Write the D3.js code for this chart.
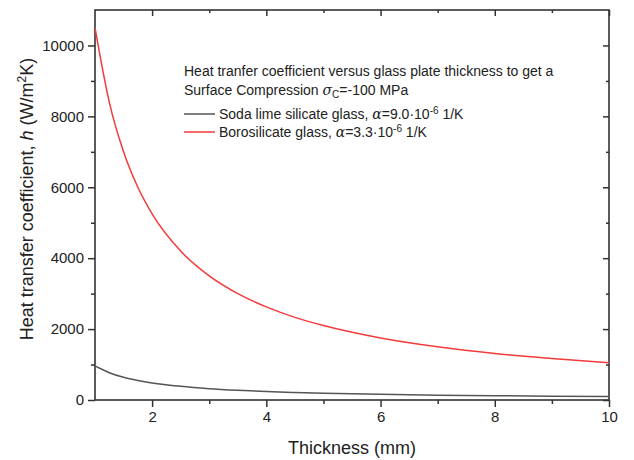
<!DOCTYPE html>
<html>
<head>
<meta charset="utf-8">
<script src="https://cdn.jsdelivr.net/npm/d3@7"></script>
<style>
  body { margin: 0; background: #fff; }
  text { font-family: "Liberation Sans", Arial, sans-serif; fill: #222; }
</style>
</head>
<body>
<svg width="634" height="460"></svg>
<script>
// thickness (mm) and h (W/m2K)
var thickness = [1, 1.25, 1.5, 1.75, 2, 2.5, 3, 3.5, 4, 4.5, 5, 6, 7, 8, 9, 10];
var hBoro     = [10500, 8400, 7000, 6000, 5250, 4200, 3500, 3000, 2625, 2330, 2100, 1750, 1500, 1310, 1170, 1050];
var hSoda     = [960, 770, 640, 550, 480, 385, 320, 275, 240, 213, 192, 160, 137, 120, 107, 96];
var xTicks = [2, 4, 6, 8, 10];
var yTicks = [0, 2000, 4000, 6000, 8000, 10000];

var svg = d3.select("svg");
var pLeft = 95, pRight = 609, pTop = 10, pBottom = 400;

var x = d3.scaleLinear().domain([1, 10]).range([pLeft, pRight]);
var y = d3.scaleLinear().domain([0, 11000]).range([pBottom, pTop]);

var axisColor = "#333";

// minor ticks
var xMinor = d3.range(3, 10, 2);
var yMinor = d3.range(1000, 11000, 2000);

// bottom axis
svg.append("g").attr("transform", "translate(0," + pBottom + ")")
    .call(d3.axisBottom(x).tickValues(xTicks).tickSize(7).tickPadding(4).tickFormat(d3.format("d")));
svg.append("g").attr("transform", "translate(0," + pBottom + ")")
    .call(d3.axisBottom(x).tickValues(xMinor).tickSize(4).tickFormat(""));
// left axis
svg.append("g").attr("transform", "translate(" + pLeft + ",0)")
    .call(d3.axisLeft(y).tickValues(yTicks).tickSize(7).tickPadding(4).tickFormat(d3.format("d")));
svg.append("g").attr("transform", "translate(" + pLeft + ",0)")
    .call(d3.axisLeft(y).tickValues(yMinor).tickSize(4).tickFormat(""));
// mirror axes, ticks inside
svg.append("g").attr("transform", "translate(0," + pTop + ")")
    .call(d3.axisBottom(x).tickValues(xTicks).tickSize(6).tickFormat(""));
svg.append("g").attr("transform", "translate(0," + pTop + ")")
    .call(d3.axisBottom(x).tickValues(xMinor).tickSize(3).tickFormat(""));
svg.append("g").attr("transform", "translate(" + pRight + ",0)")
    .call(d3.axisLeft(y).tickValues(yTicks).tickSize(6).tickFormat(""));
svg.append("g").attr("transform", "translate(" + pRight + ",0)")
    .call(d3.axisLeft(y).tickValues(yMinor).tickSize(3).tickFormat(""));

svg.selectAll(".domain").remove();
svg.selectAll(".tick line").attr("stroke", axisColor).attr("stroke-width", 1.5);
svg.selectAll(".tick text").attr("font-size", 15).attr("fill", "#222");

// frame
svg.append("rect")
    .attr("x", pLeft).attr("y", pTop)
    .attr("width", pRight - pLeft).attr("height", pBottom - pTop)
    .attr("fill", "none").attr("stroke", axisColor).attr("stroke-width", 1.6);

// curves
var line = function(vals){
    return d3.line()
        .x(function(d, i){ return x(thickness[i]); })
        .y(function(d){ return y(d); })
        .curve(d3.curveMonotoneX)(vals);
};
svg.append("clipPath").attr("id", "clip").append("rect")
    .attr("x", pLeft).attr("y", pTop).attr("width", pRight - pLeft).attr("height", pBottom - pTop);

svg.append("path").attr("d", line(hSoda)).attr("fill", "none")
    .attr("stroke", "#555").attr("stroke-width", 1.5).attr("clip-path", "url(#clip)");
svg.append("path").attr("d", line(hBoro)).attr("fill", "none")
    .attr("stroke", "#f43a3a").attr("stroke-width", 1.5).attr("clip-path", "url(#clip)");

// axis titles
svg.append("text")
    .attr("x", (pLeft + pRight) / 2).attr("y", 454)
    .attr("text-anchor", "middle").attr("font-size", 18)
    .text("Thickness (mm)");

var yt = svg.append("text")
    .attr("transform", "translate(33,199) rotate(-90)")
    .attr("text-anchor", "middle").attr("font-size", 18);
yt.append("tspan").text("Heat transfer coefficient, ");
yt.append("tspan").attr("font-style", "italic").text("h");
yt.append("tspan").text(" (W/m");
yt.append("tspan").attr("font-size", 12).attr("dy", -7).text("2");
yt.append("tspan").attr("dy", 7).text("K)");

// legend
var lx = 184, fs = 14;
svg.append("text").attr("x", lx).attr("y", 76).attr("font-size", fs)
    .text("Heat tranfer coefficient versus glass plate thickness to get a");
var t2 = svg.append("text").attr("x", lx).attr("y", 95).attr("font-size", fs);
t2.append("tspan").text("Surface Compression ");
t2.append("tspan").attr("font-style", "italic").attr("font-family", "DejaVu Serif, serif").text("σ");
t2.append("tspan").attr("font-size", 10).attr("dy", 3).text("C");
t2.append("tspan").attr("dy", -3).text("=-100 MPa");

var legend = [
    { color: "#555", name: "Soda lime silicate glass, ", a: "9.0", yy: 119 },
    { color: "#f43a3a", name: "Borosilicate glass, ", a: "3.3", yy: 137 }
];
legend.forEach(function(d){
    svg.append("line")
        .attr("x1", lx).attr("x2", lx + 31)
        .attr("y1", d.yy - 5).attr("y2", d.yy - 5)
        .attr("stroke", d.color).attr("stroke-width", 1.5);
    var t = svg.append("text").attr("x", lx + 35).attr("y", d.yy).attr("font-size", fs);
    t.append("tspan").text(d.name);
    t.append("tspan").attr("font-style", "italic").attr("font-family", "DejaVu Serif, serif").text("α");
    t.append("tspan").text("=" + d.a + "·10");
    t.append("tspan").attr("font-size", 10).attr("dy", -5).text("-6");
    t.append("tspan").attr("dy", 5).text(" 1/K");
});
</script>
</body>
</html>
